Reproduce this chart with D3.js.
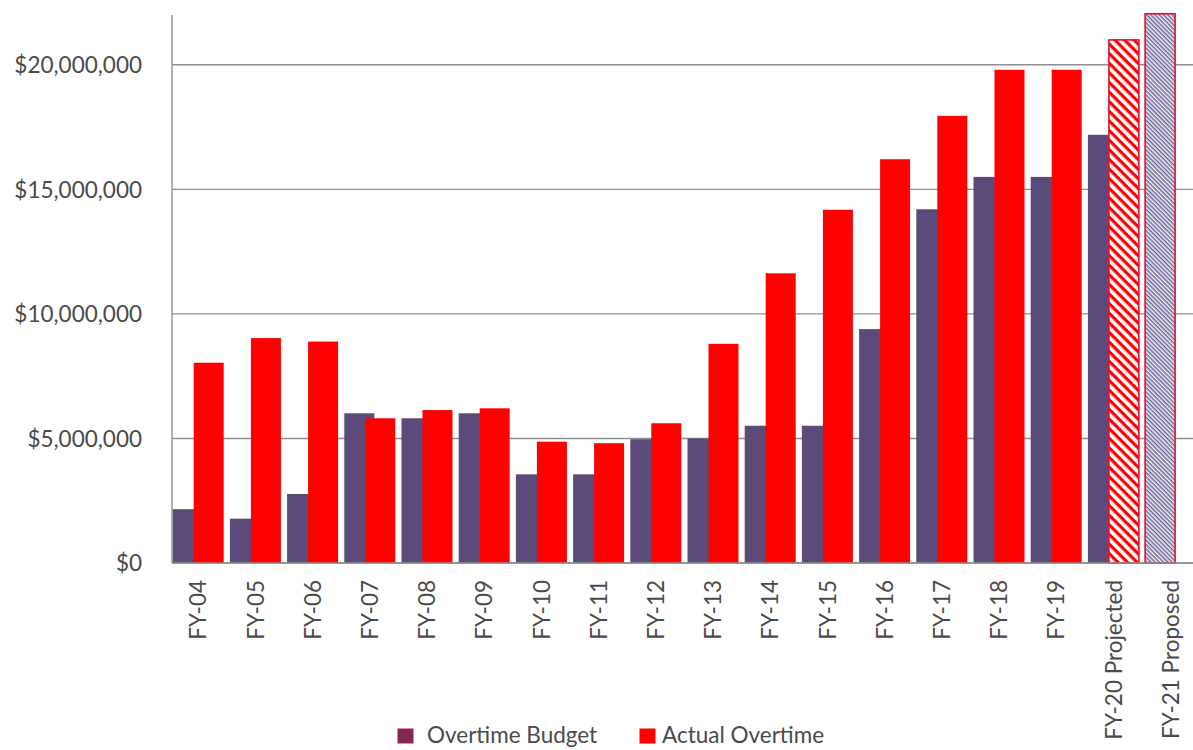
<!DOCTYPE html>
<html>
<head>
<meta charset="utf-8">
<script src="https://cdn.jsdelivr.net/npm/d3@7"></script>
<style>
  html, body { margin: 0; padding: 0; background: #fff; }
  svg { display: block; }
  text { font-family: Lato, "Open Sans", sans-serif; fill: #4a4a4a; }
</style>
</head>
<body>
<svg id="chart" width="1193" height="750"></svg>
<script>
// ---- data ----
const categories = ["FY-04","FY-05","FY-06","FY-07","FY-08","FY-09","FY-10","FY-11","FY-12","FY-13","FY-14","FY-15","FY-16","FY-17","FY-18","FY-19","FY-20 Projected","FY-21 Proposed"];
const overtimeBudget = [2160000,1780000,2770000,6010000,5810000,6010000,3560000,3560000,4970000,5000000,5510000,5510000,9390000,14200000,15500000,15500000,17190000,22050000];
const actualOvertime = [8040000,9030000,8890000,5810000,6140000,6210000,4870000,4810000,5610000,8800000,11630000,14180000,16210000,17950000,19800000,19800000,21000000,null];
// which points are estimates (drawn hatched)
const budgetHatched = [false,false,false,false,false,false,false,false,false,false,false,false,false,false,false,false,false,true];
const actualHatched = [false,false,false,false,false,false,false,false,false,false,false,false,false,false,false,false,true,false];
const yTicks = [0,5000000,10000000,15000000,20000000];
const seriesNames = ["Overtime Budget","Actual Overtime"];

// ---- layout ----
const svg = d3.select("#chart");
const axisX = 172, yTop = 15, yBase = 563;
const purple = "#5b4a7a", red = "#ff0000";
const fontSize = "22.5px", textColor = "#4a4a4a";

const x = d3.scaleBand().domain(categories).range([169.6, 169.6 + 57.2 * categories.length]).padding(0);
const sub = d3.scalePoint().domain(seriesNames).range([3.1, 24.1]);
const barW = 30;
const y = d3.scaleLinear().domain([0, 22000000]).range([yBase, yTop]);

// patterns
const defs = svg.append("defs");
const pRed = defs.append("pattern").attr("id","hatchRed").attr("patternUnits","userSpaceOnUse")
  .attr("width",6.8).attr("height",6.8).attr("patternTransform","rotate(45)");
pRed.append("rect").attr("width",6.8).attr("height",6.8).attr("fill","#fff");
pRed.append("rect").attr("width",6.8).attr("height",3.2).attr("fill",red);
const pPur = defs.append("pattern").attr("id","hatchPurple").attr("patternUnits","userSpaceOnUse")
  .attr("width",3).attr("height",3).attr("patternTransform","rotate(45)");
pPur.append("rect").attr("width",3).attr("height",3).attr("fill","#f4f2f8");
pPur.append("rect").attr("width",3).attr("height",1.5).attr("fill","#6a6598");

// gridlines
const yAxis = d3.axisLeft(y).tickValues(yTicks).tickSize(0).tickFormat(d3.format("$,"));
const gridG = svg.append("g");
gridG.selectAll("line").data(yTicks).join("line")
  .attr("x1", axisX).attr("x2", 1193)
  .attr("y1", d => y(d)).attr("y2", d => y(d))
  .attr("stroke", "#8f8f8f").attr("stroke-width", 1.4);

// y axis labels
const yG = svg.append("g").attr("transform", `translate(${142},0)`).call(yAxis);
yG.select(".domain").remove();
yG.selectAll("text").attr("x", 0).attr("dy","0.35em")
  .style("font-family","Lato, sans-serif").style("font-size",fontSize).attr("fill",textColor);

// bars
const rows = categories.map((c, i) => ({c, i}));
const barsG = svg.append("g");
// budget bars
barsG.selectAll("rect.budget").data(rows.filter(r => overtimeBudget[r.i] != null)).join("rect")
  .attr("class","budget")
  .attr("x", r => x(r.c) + sub("Overtime Budget"))
  .attr("width", barW)
  .attr("y", r => y(overtimeBudget[r.i]))
  .attr("height", r => yBase - y(overtimeBudget[r.i]))
  .attr("fill", r => budgetHatched[r.i] ? "url(#hatchPurple)" : purple)
  .attr("stroke", r => budgetHatched[r.i] ? "#e8102a" : "none")
  .attr("stroke-width", 1.6);
// actual bars
barsG.selectAll("rect.actual").data(rows.filter(r => actualOvertime[r.i] != null)).join("rect")
  .attr("class","actual")
  .attr("x", r => x(r.c) + sub("Actual Overtime"))
  .attr("width", barW)
  .attr("y", r => y(actualOvertime[r.i]))
  .attr("height", r => yBase - y(actualOvertime[r.i]))
  .attr("fill", r => actualHatched[r.i] ? "url(#hatchRed)" : red)
  .attr("stroke", r => actualHatched[r.i] ? "#e8102a" : "none")
  .attr("stroke-width", 1.6);

// axis lines
svg.append("line").attr("x1", axisX).attr("x2", axisX).attr("y1", yTop).attr("y2", yBase)
  .attr("stroke","#8f8f8f").attr("stroke-width",1.4);
svg.append("line").attr("x1", axisX).attr("x2", 1193).attr("y1", yBase).attr("y2", yBase)
  .attr("stroke","#8f8f8f").attr("stroke-width",1.4);

// x axis labels
const xAxis = d3.axisBottom(x).tickSize(0);
const xG = svg.append("g").attr("transform", `translate(0,${yBase})`).call(xAxis);
xG.select(".domain").remove();
xG.selectAll("text")
  .attr("transform","translate(0,17) rotate(-90)")
  .attr("x",0).attr("y",0).attr("dy","0.36em")
  .attr("text-anchor","end")
  .style("font-family","Lato, sans-serif").style("font-size",fontSize).attr("fill",textColor);

// legend
const legend = [
  {name: seriesNames[0], color: "#7e2a55", stroke: "#b01840", sx: 398, tx: 427},
  {name: seriesNames[1], color: red, stroke: red, sx: 640, tx: 662}
];
const lg = svg.append("g");
lg.selectAll("rect").data(legend).join("rect")
  .attr("x", d => d.sx).attr("y", 729).attr("width", 15).attr("height", 14)
  .attr("fill", d => d.color).attr("stroke", d => d.stroke).attr("stroke-width", 1);
lg.selectAll("text").data(legend).join("text")
  .attr("x", d => d.tx).attr("y", 743)
  .style("font-size",fontSize).attr("fill",textColor)
  .text(d => d.name);
</script>
</body>
</html>
